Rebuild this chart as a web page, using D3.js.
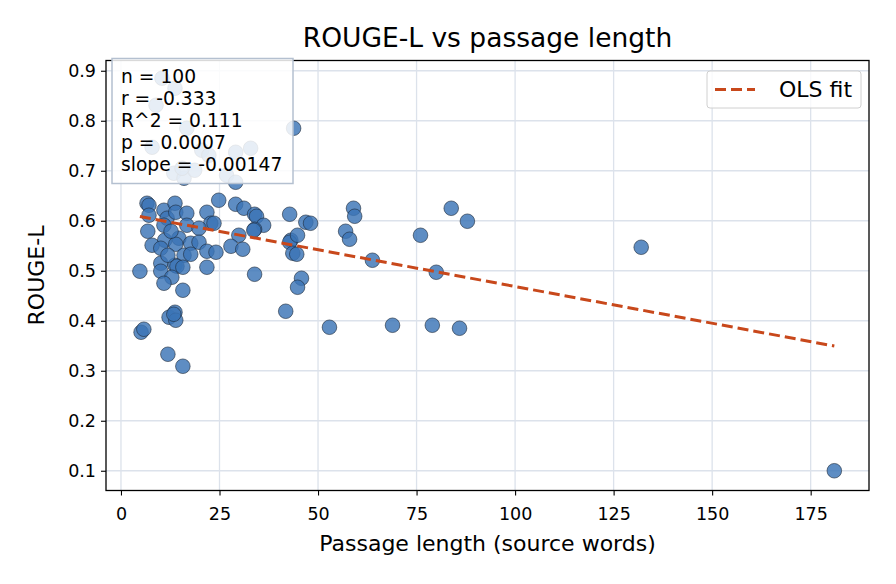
<!DOCTYPE html>
<html>
<head>
<meta charset="utf-8">
<script src="https://cdn.jsdelivr.net/npm/d3@7"></script>
<style>
  body { margin: 0; background: #fff; }
  svg { font-family: "DejaVu Sans", sans-serif; }
</style>
</head>
<body>
<svg id="chart"></svg>
<script>
// passage length (source words) per item
const passageLength = [
  10.4, 8.9, 16.7, 7.9, 20.5, 22.3, 29.1, 32.9, 13.4, 16.0,
  26.8, 29.1, 6.6, 7.1, 10.9, 13.7, 11.7, 13.9, 16.7, 21.8,
  24.8, 29.1, 31.2, 33.9, 34.4, 36.2, 42.8, 22.8, 16.7, 19.8,
  10.9, 6.8, 29.9, 33.9, 43.1, 42.8, 44.8, 14.7, 11.1, 7.9,
  10.1, 13.9, 17.7, 19.8, 21.8, 24.1, 27.9, 30.9, 16.0, 17.7,
  43.6, 44.6, 10.1, 13.7, 14.2, 15.7, 21.8, 4.8, 10.1, 12.9,
  10.9, 33.9, 45.8, 44.8, 15.7, 41.8, 12.2, 13.7, 13.9, 5.1,
  5.8, 11.9, 15.7, 11.9, 33.7, 7.1, 46.9, 48.1, 43.8, 52.9,
  59.0, 59.3, 57.0, 58.0, 63.8, 68.9, 76.0, 79.0, 80.0, 83.8,
  87.9, 85.9, 132, 181, 13.4, 13.7, 18.7, 15.5, 12.7, 23.6
];
// ROUGE-L score per item
const rougeL = [
  0.885, 0.831, 0.785, 0.747, 0.741, 0.731, 0.737, 0.745, 0.695, 0.685,
  0.691, 0.677, 0.635, 0.631, 0.621, 0.635, 0.605, 0.617, 0.615, 0.617,
  0.641, 0.633, 0.625, 0.613, 0.609, 0.591, 0.613, 0.595, 0.591, 0.585,
  0.591, 0.579, 0.571, 0.583, 0.561, 0.557, 0.571, 0.565, 0.561, 0.551,
  0.545, 0.553, 0.555, 0.557, 0.539, 0.537, 0.549, 0.543, 0.531, 0.533,
  0.535, 0.533, 0.515, 0.511, 0.509, 0.507, 0.507, 0.499, 0.499, 0.487,
  0.475, 0.493, 0.485, 0.467, 0.461, 0.419, 0.407, 0.417, 0.401, 0.377,
  0.383, 0.333, 0.309, 0.531, 0.581, 0.611, 0.597, 0.595, 0.785, 0.387,
  0.625, 0.609, 0.579, 0.563, 0.521, 0.391, 0.571, 0.391, 0.497, 0.625,
  0.599, 0.385, 0.547, 0.100, 0.413, 0.865, 0.701, 0.705, 0.579, 0.595
];

const xTicks = [0, 25, 50, 75, 100, 125, 150, 175];
const yTicks = [0.1, 0.2, 0.3, 0.4, 0.5, 0.6, 0.7, 0.8, 0.9];

// OLS fit as reported
const fitIntercept = 0.6155;
const fitSlope = -0.00147;
const statsLines = ["n = 100", "r = -0.333", "R^2 = 0.111", "p = 0.0007", "slope = -0.00147"];

const width = 896, height = 584;
const margin = { top: 60.5, right: 27, bottom: 93.5, left: 106 };

const svg = d3.select("#chart")
  .attr("width", width)
  .attr("height", height);

const xScale = d3.scaleLinear()
  .domain([-3.8, 189.8])
  .range([margin.left, width - margin.right]);

const yScale = d3.scaleLinear()
  .domain([0.0605, 0.9205])
  .range([height - margin.bottom, margin.top]);

const plotW = width - margin.left - margin.right;
const plotH = height - margin.top - margin.bottom;

// grid
const grid = svg.append("g").attr("stroke", "#dce2eb").attr("stroke-width", 1.3);
grid.selectAll(".gx").data(xTicks).join("line")
  .attr("x1", d => xScale(d)).attr("x2", d => xScale(d))
  .attr("y1", margin.top).attr("y2", height - margin.bottom);
grid.selectAll(".gy").data(yTicks).join("line")
  .attr("x1", margin.left).attr("x2", width - margin.right)
  .attr("y1", d => yScale(d)).attr("y2", d => yScale(d));

const points = passageLength.map((x, i) => ({ x, y: rougeL[i] }));

svg.append("g")
  .selectAll("circle")
  .data(points)
  .join("circle")
  .attr("cx", d => xScale(d.x))
  .attr("cy", d => yScale(d.y))
  .attr("r", 7.3)
  .attr("fill", "#3a74b6")
  .attr("fill-opacity", 0.82)
  .attr("stroke", "#1c2838")
  .attr("stroke-width", 0.6);

// fit line
const xExtent = d3.extent(passageLength);
const line = d3.line().x(d => xScale(d)).y(d => yScale(fitIntercept + fitSlope * d));
svg.append("path")
  .datum(xExtent)
  .attr("d", line)
  .attr("fill", "none")
  .attr("stroke", "#c8481b")
  .attr("stroke-width", 3)
  .attr("stroke-dasharray", "11,5");

// axes
const xAxis = d3.axisBottom(xScale).tickValues(xTicks).tickSize(5).tickPadding(12).tickFormat(d3.format("d"));
const yAxis = d3.axisLeft(yScale).tickValues(yTicks).tickSize(5).tickPadding(5).tickFormat(d3.format(".1f"));

const xAxisGroup = svg.append("g")
  .attr("transform", `translate(0,${height - margin.bottom})`)
  .call(xAxis);
const yAxisGroup = svg.append("g")
  .attr("transform", `translate(${margin.left},0)`)
  .call(yAxis);

[xAxisGroup, yAxisGroup].forEach(g => {
  g.select(".domain").remove();
  g.selectAll(".tick line").attr("stroke", "#000").attr("stroke-width", 1.1);
  g.selectAll(".tick text").attr("fill", "#000").style("font-size", "17.5px").style("font-family", "DejaVu Sans");
});

// frame
svg.append("rect")
  .attr("x", margin.left).attr("y", margin.top)
  .attr("width", plotW).attr("height", plotH)
  .attr("fill", "none").attr("stroke", "#000").attr("stroke-width", 1.3);

// stats box
const stats = svg.append("g").attr("transform", "translate(112,58.5)");
stats.append("rect")
  .attr("width", 181).attr("height", 125)
  .attr("fill", "#fff").attr("fill-opacity", 0.85)
  .attr("stroke", "#b4c0d0").attr("stroke-width", 1.5);
stats.selectAll("text").data(statsLines).join("text")
  .attr("x", 9)
  .attr("y", (d, i) => 24 + i * 22)
  .style("font-size", "18.7px")
  .text(d => d);

// legend
const legend = svg.append("g").attr("transform", "translate(707,71)");
legend.append("rect")
  .attr("width", 154).attr("height", 37).attr("rx", 3)
  .attr("fill", "#fff").attr("fill-opacity", 0.8)
  .attr("stroke", "#d0d0d0").attr("stroke-width", 1);
legend.append("line")
  .attr("x1", 8).attr("x2", 48).attr("y1", 18.5).attr("y2", 18.5)
  .attr("stroke", "#c8481b").attr("stroke-width", 3).attr("stroke-dasharray", "11,5");
legend.append("text")
  .attr("x", 72).attr("y", 26)
  .style("font-size", "22px")
  .text("OLS fit");

// title and labels
svg.append("text")
  .attr("x", margin.left + plotW / 2).attr("y", 47)
  .attr("text-anchor", "middle")
  .style("font-size", "26.5px")
  .text("ROUGE-L vs passage length");

svg.append("text")
  .attr("x", margin.left + plotW / 2).attr("y", 551)
  .attr("text-anchor", "middle")
  .style("font-size", "22px")
  .text("Passage length (source words)");

svg.append("text")
  .attr("transform", `translate(44,${margin.top + plotH / 2}) rotate(-90)`)
  .attr("text-anchor", "middle")
  .style("font-size", "22px")
  .text("ROUGE-L");
</script>
</body>
</html>
